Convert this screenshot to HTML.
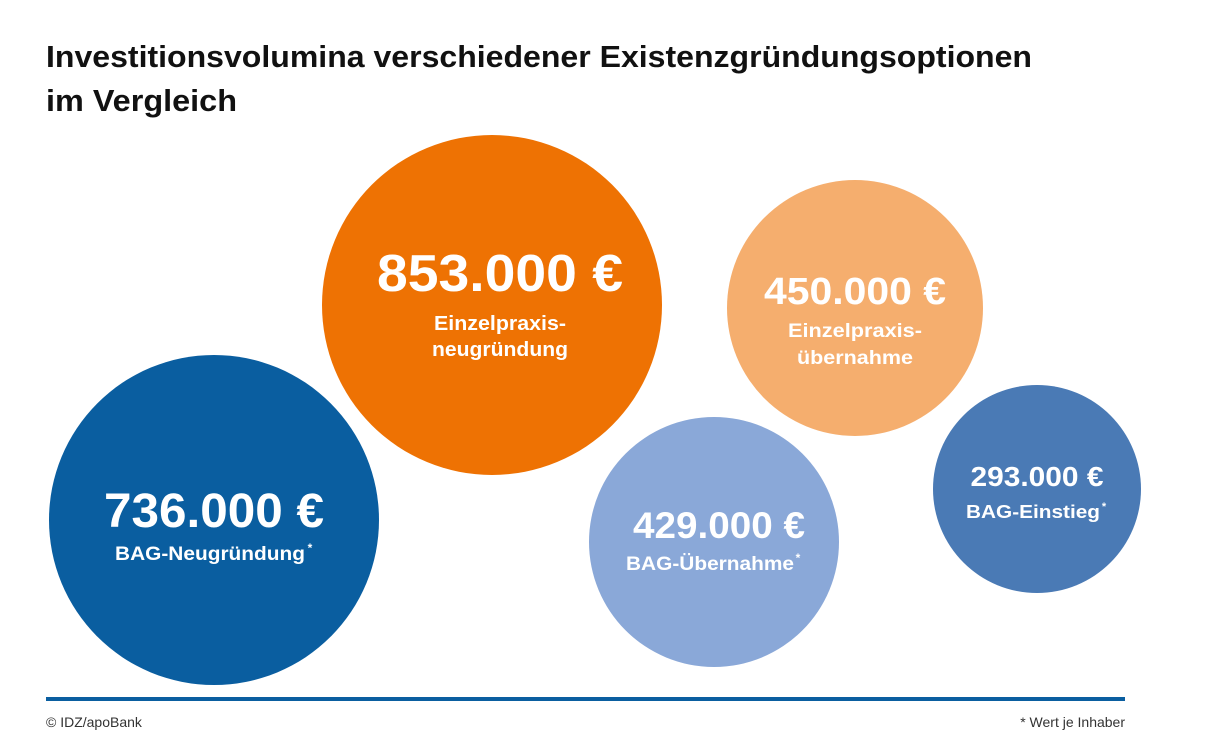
<!DOCTYPE html>
<html><head><meta charset="utf-8"><style>
html,body{margin:0;padding:0;background:#fff;}
svg{display:block;}
text{font-family:"Liberation Sans",sans-serif;}
</style></head><body>
<svg width="1208" height="754" viewBox="0 0 1208 754" xmlns="http://www.w3.org/2000/svg">
<rect width="1208" height="754" fill="#fff"/>
<text x="46" y="67" font-size="31" font-weight="bold" fill="#111" textLength="986" lengthAdjust="spacingAndGlyphs">Investitionsvolumina verschiedener Existenzgründungsoptionen</text>
<text x="46" y="111" font-size="31" font-weight="bold" fill="#111" textLength="191" lengthAdjust="spacingAndGlyphs">im Vergleich</text>

<circle cx="492" cy="305" r="170" fill="#EE7203"/>
<circle cx="855" cy="308" r="128" fill="#F5AE6E"/>
<circle cx="214" cy="520" r="165" fill="#0A5EA0"/>
<circle cx="714" cy="542" r="125" fill="#8AA8D8"/>
<circle cx="1037" cy="489" r="104" fill="#4A7AB5"/>

<g fill="#fff" font-weight="bold" text-anchor="middle">
<text x="500" y="291" font-size="52" textLength="246" lengthAdjust="spacingAndGlyphs">853.000 €</text>
<text x="500" y="330" font-size="20" textLength="132" lengthAdjust="spacingAndGlyphs">Einzelpraxis-</text>
<text x="500" y="356" font-size="20" textLength="136" lengthAdjust="spacingAndGlyphs">neugründung</text>

<text x="855" y="304" font-size="38" textLength="182" lengthAdjust="spacingAndGlyphs">450.000 €</text>
<text x="855" y="337" font-size="19" textLength="134" lengthAdjust="spacingAndGlyphs">Einzelpraxis-</text>
<text x="855" y="364" font-size="19" textLength="116" lengthAdjust="spacingAndGlyphs">übernahme</text>

<text x="214" y="527" font-size="48" textLength="220" lengthAdjust="spacingAndGlyphs">736.000 €</text>
<text x="210" y="560" font-size="19" textLength="190" lengthAdjust="spacingAndGlyphs">BAG-Neugründung</text>
<text x="310" y="552" font-size="12">*</text>

<text x="710" y="570" font-size="19" textLength="168" lengthAdjust="spacingAndGlyphs">BAG-Übernahme</text>
<text x="798" y="562" font-size="12">*</text>
<text x="719" y="538" font-size="37" textLength="172" lengthAdjust="spacingAndGlyphs">429.000 €</text>

<text x="1037" y="486" font-size="28" textLength="133" lengthAdjust="spacingAndGlyphs">293.000 €</text>
<text x="1033" y="518" font-size="18" textLength="134" lengthAdjust="spacingAndGlyphs">BAG-Einstieg</text>
<text x="1104" y="510" font-size="11">*</text>
</g>

<rect x="46" y="697" width="1079" height="4" fill="#0A5EA0"/>
<text x="46" y="727" font-size="14" fill="#333">© IDZ/apoBank</text>
<text x="1125" y="727" font-size="14" fill="#333" text-anchor="end">* Wert je Inhaber</text>
</svg>
</body></html>
